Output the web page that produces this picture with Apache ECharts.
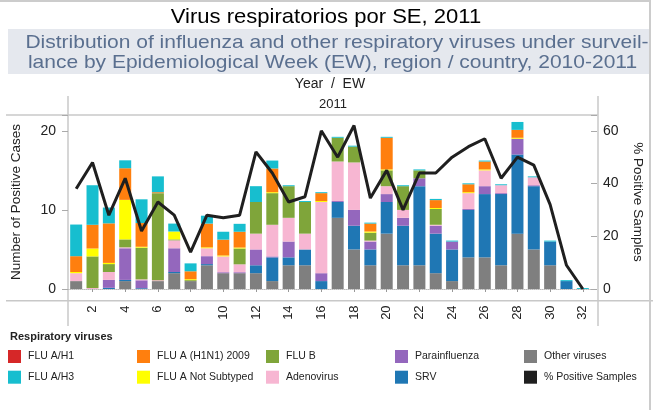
<!DOCTYPE html>
<html>
<head>
<meta charset="utf-8">
<script src="https://cdn.jsdelivr.net/npm/echarts@6/dist/echarts.min.js"></script>
<style>
  html, body { margin: 0; background: #fff; }
  #chart { width: 653px; height: 410px; }
</style>
</head>
<body>
<div id="chart"></div>
<script>
// epidemiological weeks 2011
const weeks = ['1','2','3','4','5','6','7','8','9','10','11','12','13','14','15','16',
  '17','18','19','20','21','22','23','24','25','26','27','28','29','30','31','32'];

// counts per week, stacked bottom -> top
const otherViruses = [1,0,0,1,0,1,2,1,3,2,2,2,1,3,3,0,9,5,3,7,3,3,2,1,4,4,3,7,5,3,0,0];
const srv          = [0,0,0.15,0.15,0.1,0,0.15,0,0.15,0,0,1,3,1,2,1,2,3,2,4,5,10,5,4,6,8,9,10,8,3,1,0];
const parainfluenza= [0,0,1,4,1,0,3,0,1,0.12,0.12,2,0.12,2,0,1,0.12,2,1,1,1,1,1,1,0.12,1,0.12,2,0.12,0,0,0];
const adenovirus   = [1,0.12,1,0.12,0.12,0.12,1,0,1,2,1,2,4,3,2,9,5,6,0.12,1,1,0,0.12,0,2,2,1,0,1,0,0,0];
const fluB         = [0,4,1,1,4,11,0.12,0.12,0,0,2,4,4,4,4,0,3,2,1,2,3,1,2,0,0,0,0,0,0,0,0,0];
const fluNotSub    = [0.15,1,0.15,5,0.12,0,1,0.12,0.12,0.12,0.12,0,0.12,0,0,0.12,0,0,0.15,0.12,0,0,0.12,0,0.12,0.12,0,0.12,0,0,0,0];
const fluH1N1      = [2,3,5,4,3,0.12,0,1,3,2,2,0,3,0,0,1,0,0,1,4,0,0,1,0,1,1,0,1,0,0,0,0];
const fluH3        = [4,5,2,1,3,2,1,1,1,1,1,2,1,0.12,0.12,0.12,0.12,0.12,0.12,0.12,0.12,0.12,0.15,0.12,0.12,0.12,0.12,1,0.12,0.12,0.12,0.12];
const fluH1        = [0,0,0,0,0,0,0,0,0,0,0,0,0,0,0,0,0,0,0,0,0,0,0,0,0,0,0,0,0,0,0,0];

// % positive samples
const pctPositive = [38,48,28,42,22,33,28,14,28,27,28,52,44,33,35,60,50,62,34.5,45,30,44,44,50,54,57,42,50,47,32,9,0];

const leftTicks = [0, 10, 20];
const rightTicks = [0, 20, 40, 60];

const FONT = 'Liberation Sans';
const chart = echarts.init(document.getElementById('chart'));

const stackSeries = [
  { name: 'Other viruses', data: otherViruses, color: '#7f7f7f' },
  { name: 'SRV', data: srv, color: '#1f77b4' },
  { name: 'Parainfluenza', data: parainfluenza, color: '#9467bd' },
  { name: 'Adenovirus', data: adenovirus, color: '#f7b6d2' },
  { name: 'FLU B', data: fluB, color: '#7fa53a' },
  { name: 'FLU A Not Subtyped', data: fluNotSub, color: '#ffff00' },
  { name: 'FLU A (H1N1) 2009', data: fluH1N1, color: '#ff7f0e' },
  { name: 'FLU A/H3', data: fluH3, color: '#17becf' },
  { name: 'FLU A/H1', data: fluH1, color: '#d62728' }
].map(s => ({
  name: s.name,
  type: 'bar',
  stack: 'cases',
  barWidth: 12,
  data: s.data,
  itemStyle: { color: s.color },
  emphasis: { disabled: true }
}));

const evenOnly = (idx) => idx % 2 === 1;
const legendCols = [
  ['FLU A/H1', 'FLU A/H3'],
  ['FLU A (H1N1) 2009', 'FLU A Not Subtyped'],
  ['FLU B', 'Adenovirus'],
  ['Parainfluenza', 'SRV'],
  ['Other viruses', '% Positive Samples']
];
const legendLeft = [8, 137, 266, 395, 524];

const frame = { stroke: '#c8c8c8', lineWidth: 1.5 };
const subFont = '18.5px "Liberation Sans"';
const subColor = '#5a6f8f';

chart.setOption({
  animation: false,
  grid: { left: 68, right: 55, top: 115, bottom: 121 },
  legend: legendCols.map((col, i) => ({
    data: col,
    orient: 'vertical',
    left: legendLeft[i],
    top: 350,
    padding: 0,
    itemWidth: 13,
    itemHeight: 13,
    itemGap: 7.7,
    icon: 'rect',
    selectedMode: false,
    textStyle: { fontFamily: FONT, fontSize: 10.5, color: '#222', padding: [0, 0, 0, 2] }
  })),
  xAxis: [
    {
      type: 'category',
      data: weeks,
      axisLine: { lineStyle: { color: '#bbb', type: 'dotted', width: 1 } },
      axisTick: { show: false },
      axisLabel: { show: false }
    },
    {
      type: 'category',
      data: weeks,
      position: 'bottom',
      offset: 11.4,
      axisLine: { show: false },
      axisTick: { show: true, alignWithLabel: true, interval: evenOnly, length: 3, lineStyle: { color: '#999' } },
      axisLabel: { interval: evenOnly, rotate: 90, margin: 5, fontFamily: FONT, fontSize: 13, color: '#222' }
    }
  ],
  yAxis: [
    {
      type: 'value',
      min: 0, max: 22, interval: 10,
      name: 'Number of Positive Cases',
      nameLocation: 'middle',
      nameGap: 45,
      nameTextStyle: { fontFamily: FONT, fontSize: 13.5, color: '#222' },
      axisLine: { show: false },
      axisTick: { show: true, length: 6, lineStyle: { color: '#aaa' } },
      axisLabel: {
        margin: 12, fontFamily: FONT, fontSize: 14, color: '#222',
        formatter: v => leftTicks.includes(v) ? String(v) : ''
      },
      splitLine: { show: false }
    },
    {
      type: 'value',
      min: 0, max: 66, interval: 20,
      position: 'right',
      name: '% Positive Samples',
      nameLocation: 'middle',
      nameGap: 40,
      nameRotate: -90,
      nameTextStyle: { fontFamily: FONT, fontSize: 13.5, color: '#222' },
      axisLine: { show: false },
      axisTick: { show: true, length: 6, lineStyle: { color: '#aaa' } },
      axisLabel: {
        margin: 12, fontFamily: FONT, fontSize: 14, color: '#222',
        formatter: v => rightTicks.includes(v) ? String(v) : ''
      },
      splitLine: { show: false }
    }
  ],
  graphic: [
    {
      type: 'text', x: 326, y: 17, scaleX: 1.05,
      style: { text: 'Virus respiratorios por SE, 2011', font: '21px "Liberation Sans"', fill: '#000', align: 'center', verticalAlign: 'middle' }
    },
    { type: 'rect', z: -1, shape: { x: 8, y: 29, width: 642, height: 45 }, style: { fill: '#e5e8ee' } },
    {
      type: 'text', x: 337, y: 42.5, scaleX: 1.135,
      style: { text: 'Distribution of influenza and other respiratory viruses under surveil-', font: subFont, fill: subColor, align: 'center', verticalAlign: 'middle' }
    },
    {
      type: 'text', x: 332.5, y: 63, scaleX: 1.135,
      style: { text: 'lance by Epidemiological Week (EW), region / country, 2010-2011', font: subFont, fill: subColor, align: 'center', verticalAlign: 'middle' }
    },
    { type: 'text', x: 330, y: 84, style: { text: 'Year  /  EW', font: '14px "Liberation Sans"', fill: '#222', align: 'center', verticalAlign: 'middle' } },
    { type: 'text', x: 333, y: 104, style: { text: '2011', font: '13px "Liberation Sans"', fill: '#222', align: 'center', verticalAlign: 'middle' } },
    { type: 'text', x: 10, y: 337, style: { text: 'Respiratory viruses', font: 'bold 11px "Liberation Sans"', fill: '#222', verticalAlign: 'middle' } },
    { type: 'line', shape: { x1: 68, y1: 96, x2: 68, y2: 326 }, style: frame },
    { type: 'line', shape: { x1: 598, y1: 96, x2: 598, y2: 326 }, style: frame },
    { type: 'line', shape: { x1: 6, y1: 115, x2: 598, y2: 115 }, style: frame },
    { type: 'line', shape: { x1: 6, y1: 300.7, x2: 653, y2: 300.7 }, style: frame },
    { type: 'line', shape: { x1: 0, y1: 1, x2: 650, y2: 1 }, style: { stroke: '#ccc', lineWidth: 2 } },
    { type: 'line', shape: { x1: 650, y1: 0, x2: 650, y2: 410 }, style: { stroke: '#ccc', lineWidth: 2 } }
  ],
  series: [
    ...stackSeries,
    {
      name: '% Positive Samples',
      type: 'line',
      yAxisIndex: 1,
      data: pctPositive,
      symbol: 'none',
      lineStyle: { color: '#1f1f1f', width: 3 },
      itemStyle: { color: '#1f1f1f' },
      z: 5
    }
  ]
});
</script>
</body>
</html>
